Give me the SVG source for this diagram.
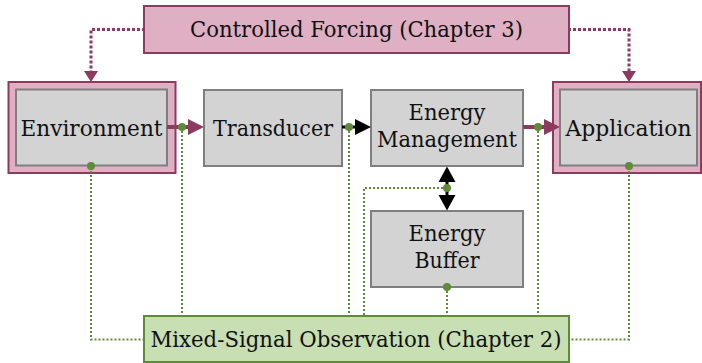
<svg xmlns="http://www.w3.org/2000/svg" width="702" height="363" viewBox="0 0 702 363">
<style>
.pink{fill:#dfb0c4;stroke:#8c3a60;stroke-width:2}
.gray{fill:#d3d3d3;stroke:#7f7f7f;stroke-width:2}
.green{fill:#c7dfb3;stroke:#5e8b37;stroke-width:2}
.t{font-family:'DejaVu Serif','Liberation Serif',serif;font-size:22px;fill:#111;text-anchor:middle}
.pd{fill:none;stroke:#8c3a60;stroke-width:3;stroke-dasharray:3 2}
.gd{fill:none;stroke:#5e8b37;stroke-width:2;stroke-dasharray:2 2}
.dot{fill:#5e8b37}
.mag{stroke:#8c3a60;stroke-width:4;fill:none}
.magh{fill:#8c3a60}
.blk{stroke:#000;stroke-width:3;fill:none}
</style>
<g id="controlled-forcing">
<rect class="pink" x="144" y="6" width="425" height="47"/>
<text class="t" x="356.5" y="37" textLength="333" lengthAdjust="spacingAndGlyphs">Controlled Forcing (Chapter 3)</text>
</g>
<g id="environment">
<rect class="pink" x="8.5" y="82" width="167" height="91"/>
<rect class="gray" x="16" y="89.5" width="151" height="76"/>
<text class="t" x="91.5" y="136" textLength="142" lengthAdjust="spacingAndGlyphs">Environment</text>
</g>
<g id="transducer">
<rect class="gray" x="204" y="90" width="138" height="76"/>
<text class="t" x="273" y="136" textLength="120" lengthAdjust="spacingAndGlyphs">Transducer</text>
</g>
<g id="energy-management">
<rect class="gray" x="371" y="90" width="152" height="76"/>
<text class="t" x="447" y="120" textLength="77" lengthAdjust="spacingAndGlyphs">Energy</text>
<text class="t" x="447" y="147" textLength="140" lengthAdjust="spacingAndGlyphs">Management</text>
</g>
<g id="application">
<rect class="pink" x="553" y="82" width="148" height="91"/>
<rect class="gray" x="560" y="89.5" width="137" height="76"/>
<text class="t" x="628.5" y="136" textLength="126" lengthAdjust="spacingAndGlyphs">Application</text>
</g>
<g id="energy-buffer">
<rect class="gray" x="371" y="211" width="152" height="76"/>
<text class="t" x="447" y="241" textLength="77" lengthAdjust="spacingAndGlyphs">Energy</text>
<text class="t" x="447" y="268" textLength="65" lengthAdjust="spacingAndGlyphs">Buffer</text>
</g>
<g id="mixed-signal-observation">
<rect class="green" x="144" y="316" width="425" height="46"/>
<text class="t" x="356" y="347" textLength="411" lengthAdjust="spacingAndGlyphs">Mixed-Signal Observation (Chapter 2)</text>
</g>
<g id="connectors">
<path class="pd" d="M145 29.5 H91 V72"/>
<path class="pd" d="M568 29.5 H629 V72"/>
<polygon class="magh" points="84,71 98,71 91,82"/>
<polygon class="magh" points="622,71 636,71 629,82"/>
<path class="gd" d="M91 167 V339.5 H143"/>
<path class="gd" d="M629 167 V339.5 H570"/>
<path class="gd" d="M182 127 V315"/>
<path class="gd" d="M349 127 V315"/>
<path class="gd" d="M447 188 H364 V315"/>
<path class="gd" d="M447 287 V315"/>
<path class="gd" d="M538 127 V315"/>
<line class="mag" x1="167" y1="127" x2="190" y2="127"/>
<polygon class="magh" points="188,119 204,127 188,135"/>
<line class="blk" x1="342" y1="127" x2="357" y2="127"/>
<polygon points="355,119 371,127 355,135" fill="#000"/>
<line class="mag" x1="523" y1="127" x2="546" y2="127"/>
<polygon class="magh" points="544,119 560,127 544,135"/>
<line class="blk" x1="447" y1="180" x2="447" y2="196"/>
<polygon points="438.5,182 455.5,182 447,166.5" fill="#000"/>
<polygon points="438.5,195 455.5,195 447,210.5" fill="#000"/>
<circle class="dot" cx="182" cy="127" r="4"/>
<circle class="dot" cx="349" cy="127" r="4"/>
<circle class="dot" cx="538" cy="127" r="4"/>
<circle class="dot" cx="447" cy="188" r="4"/>
<circle class="dot" cx="91" cy="166" r="4"/>
<circle class="dot" cx="629" cy="166" r="4"/>
<circle class="dot" cx="447" cy="287" r="4"/>
</g>
</svg>
